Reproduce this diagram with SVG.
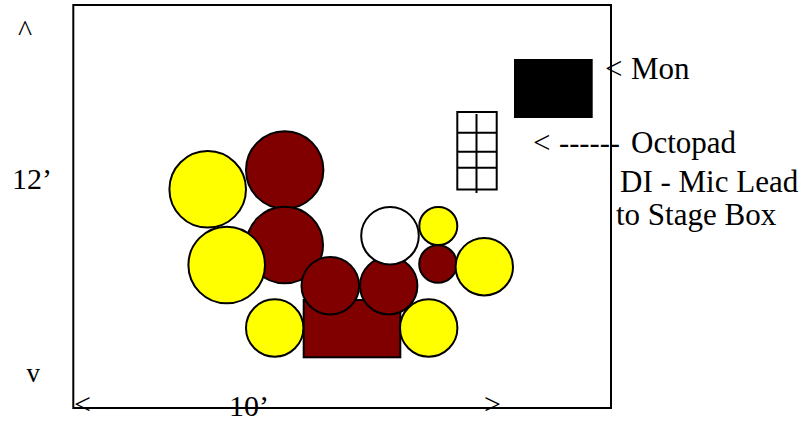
<svg xmlns="http://www.w3.org/2000/svg" width="810" height="421" viewBox="0 0 810 421">
<style>
  .t { font-family: 'Liberation Serif', 'DejaVu Serif', 'Times New Roman', Times, serif; font-size: 30px; fill: #000; }
  .lb { font-size: 31px; }
  .ln { fill: none; stroke: #000; stroke-width: 2; }
  .y { fill: #FFFF00; stroke: #000; stroke-width: 2; }
  .r { fill: #800000; stroke: #000; stroke-width: 2; }
  .w { fill: #FFFFFF; stroke: #000; stroke-width: 2; }
</style>
<rect x="0" y="0" width="810" height="421" fill="#fff"/>
<g id="stage">
  <rect class="ln" x="73.3" y="5" width="537.7" height="403"/>
</g>
<g id="connectors" font-family="Liberation Serif, serif">
  <text class="t" x="74" y="414">&lt;</text>
  <text class="t" x="484" y="414">&gt;</text>
</g>
<g id="dimensions" font-family="Liberation Serif, serif">
  <text class="t" x="18" y="41">^</text>
  <text class="t" x="12" y="189">12’</text>
  <text class="t" x="26.5" y="381.5" style="font-size:27px">v</text>
  <text class="t" x="229" y="415.5">10’</text>
</g>
<g id="riser">
  <rect class="r" x="303.7" y="300" width="96.6" height="57.3"/>
</g>
<g id="drum-top"><circle class="r" cx="284.7" cy="170" r="38.7"/></g>
<g id="drum-mid"><circle class="r" cx="284.7" cy="245" r="38.3"/></g>
<g id="cymbal-top-left"><circle class="y" cx="207.7" cy="189.3" r="38.3"/></g>
<g id="cymbal-mid-left"><circle class="y" cx="226.7" cy="265" r="38.3"/></g>
<g id="drum-low-left"><circle class="r" cx="330.3" cy="285.7" r="28.8"/></g>
<g id="drum-low-right"><circle class="r" cx="388.7" cy="285.7" r="28.7"/></g>
<g id="snare"><circle class="w" cx="390" cy="235.7" r="28.8"/></g>
<g id="cymbal-small"><circle class="y" cx="438.3" cy="226" r="19"/></g>
<g id="drum-small"><circle class="r" cx="438" cy="264" r="18.8"/></g>
<g id="cymbal-right"><circle class="y" cx="484.3" cy="266.7" r="28.7"/></g>
<g id="cymbal-bottom-left"><circle class="y" cx="274.7" cy="328" r="28.7"/></g>
<g id="cymbal-bottom-right"><circle class="y" cx="428.7" cy="328" r="28.7"/></g>
<g id="octopad">
  <rect class="ln" x="457.3" y="112" width="39.4" height="77.5"/>
  <line class="ln" x1="476.5" y1="114" x2="476.5" y2="193"/>
  <line class="ln" x1="457.3" y1="132.7" x2="496.7" y2="132.7"/>
  <line class="ln" x1="457.3" y1="151.7" x2="496.7" y2="151.7"/>
  <line class="ln" x1="457.3" y1="167.7" x2="496.7" y2="167.7"/>
</g>
<g id="monitor">
  <rect x="514" y="59" width="78.7" height="59" fill="#000"/>
</g>
<g id="labels" font-family="Liberation Serif, serif">
  <text class="t lb" x="605" y="79">&lt; <tspan x="631">Mon</tspan></text>
  <text class="t lb" x="533" y="152.5">&lt; <tspan x="559" textLength="61" lengthAdjust="spacingAndGlyphs">------</tspan> <tspan x="631">Octopad</tspan></text>
  <text class="t lb" x="620" y="191.5">DI - Mic Lead</text>
  <text class="t lb" x="616" y="225">to Stage Box</text>
</g>
</svg>
